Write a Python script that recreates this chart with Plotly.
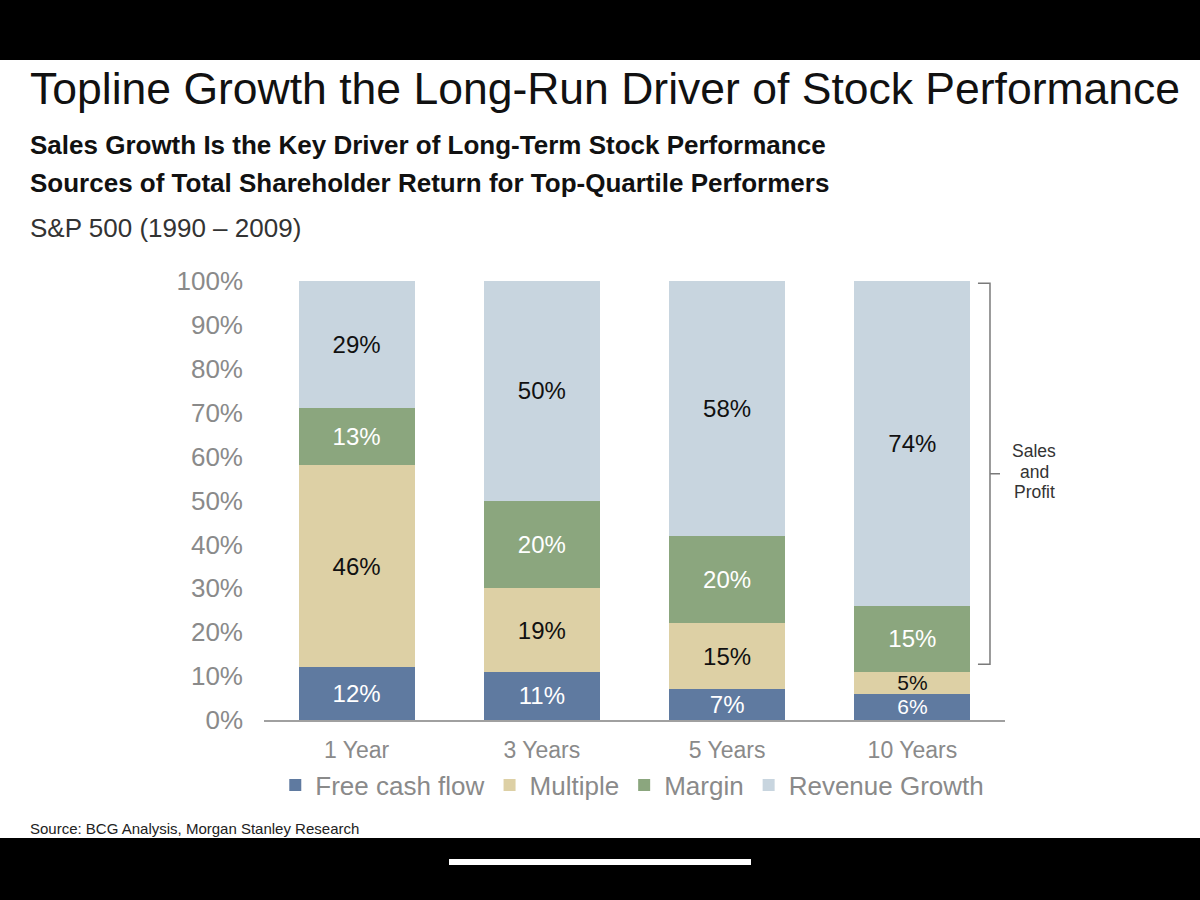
import plotly.graph_objects as go

categories = ["1 Year", "3 Years", "5 Years", "10 Years"]
free_cash_flow = [12, 11, 7, 6]
multiple = [46, 19, 15, 5]
margin = [13, 20, 20, 15]
revenue_growth = [29, 50, 58, 74]
y_ticks = [0, 10, 20, 30, 40, 50, 60, 70, 80, 90, 100]
y_tick_labels = [f"{v}%" for v in y_ticks]

series = [
    ("Free cash flow", free_cash_flow, "#5f7aa0", "white"),
    ("Multiple", multiple, "#ddd0a5", "#111111"),
    ("Margin", margin, "#8ba67e", "white"),
    ("Revenue Growth", revenue_growth, "#c8d5df", "#111111"),
]

FONT = "Liberation Sans, Arial, sans-serif"

fig = go.Figure()
for name, vals, color, tcolor in series:
    sizes = [24 if v >= 7 else 21 for v in vals]
    fig.add_trace(go.Bar(
        x=categories, y=vals, name=name,
        marker=dict(color=color, line=dict(width=0)),
        text=[f"{v}%" for v in vals],
        textposition="inside", insidetextanchor="middle",
        constraintext="none",
        textfont=dict(family=FONT, size=sizes, color=tcolor),
        width=0.627, hoverinfo="skip",
    ))

def px_x(p):
    return (p - 264) / 741.0

def px_y(p):
    return (720 - p) / 439.0

shapes = []
# top and bottom black bands (phone screenshot frame)
shapes.append(dict(type="rect", xref="paper", yref="paper",
                   x0=px_x(-5), x1=px_x(1205), y0=px_y(60), y1=px_y(-5),
                   fillcolor="black", line=dict(width=0), layer="above"))
shapes.append(dict(type="rect", xref="paper", yref="paper",
                   x0=px_x(-5), x1=px_x(1205), y0=px_y(905), y1=px_y(838),
                   fillcolor="black", line=dict(width=0), layer="above"))
shapes.append(dict(type="rect", xref="paper", yref="paper",
                   x0=px_x(449), x1=px_x(751), y0=px_y(865), y1=px_y(859),
                   fillcolor="white", line=dict(width=0), layer="above"))

# bracket for Sales and Profit (Margin + Revenue Growth of 10 Years)
b_bottom = free_cash_flow[3] + multiple[3] + 1.7
b_top = 99.5
b_mid = (b_bottom + b_top) / 2
xv, xh, xt = 3.419, 3.354, 3.473
path = (f"M {xh},{b_top} L {xv},{b_top} L {xv},{b_bottom} L {xh},{b_bottom} "
        f"M {xv},{b_mid} L {xt},{b_mid}")
shapes.append(dict(type="path", xref="x", yref="y", path=path,
                   line=dict(color="#7a7a7a", width=1.5)))

annotations = [
    dict(text="Topline Growth the Long-Run Driver of Stock Performance",
         x=px_x(28), y=px_y(88), xanchor="left", yanchor="middle",
         font=dict(family=FONT, size=44.5, color="#111111")),
    dict(text="<b>Sales Growth Is the Key Driver of Long-Term Stock Performance</b>",
         x=px_x(28), y=px_y(145), xanchor="left", yanchor="middle",
         font=dict(family=FONT, size=26, color="#111111")),
    dict(text="<b>Sources of Total Shareholder Return for Top-Quartile Performers</b>",
         x=px_x(28), y=px_y(183), xanchor="left", yanchor="middle",
         font=dict(family=FONT, size=26, color="#111111")),
    dict(text="S&P 500 (1990 – 2009)",
         x=px_x(28), y=px_y(228), xanchor="left", yanchor="middle",
         font=dict(family=FONT, size=26, color="#333333")),
    dict(text="Source: BCG Analysis, Morgan Stanley Research",
         x=px_x(28), y=px_y(828), xanchor="left", yanchor="middle",
         font=dict(family=FONT, size=15, color="#222222")),
]
for word, ypx in [("Sales", 451), ("and", 472), ("Profit", 492)]:
    annotations.append(dict(text=word, x=px_x(1034), y=px_y(ypx),
                            xanchor="center", yanchor="middle",
                            font=dict(family=FONT, size=17.5, color="#333333")))
for a in annotations:
    a.update(xref="paper", yref="paper", showarrow=False)

fig.update_layout(
    width=1200, height=900,
    margin=dict(l=264, r=195, t=281, b=180),
    barmode="stack", bargap=0.373,
    paper_bgcolor="white", plot_bgcolor="white",
    font=dict(family=FONT),
    showlegend=True,
    legend=dict(orientation="h", x=0.497, xanchor="center",
                y=px_y(785), yanchor="middle",
                font=dict(family=FONT, size=26, color="#8a8a8a"),
                itemclick=False, itemdoubleclick=False,
                traceorder="normal", itemwidth=30),
    shapes=shapes, annotations=annotations,
)
fig.update_xaxes(
    type="category", range=[-0.5, 3.5],
    showline=True, linecolor="#a0a0a0", linewidth=2,
    showgrid=False, ticks="", zeroline=False,
    tickfont=dict(family=FONT, size=23, color="#8a8a8a"),
    ticklabelstandoff=8,
)
fig.update_yaxes(
    range=[0, 100], tickvals=y_ticks, ticktext=y_tick_labels,
    showgrid=False, zeroline=False, showline=False, ticks="",
    tickfont=dict(family=FONT, size=26, color="#8a8a8a"),
    ticklabelstandoff=20,
)

fig.write_html("out.html",
               config={"displayModeBar": False},
               post_script="document.body.style.margin='0';document.body.style.overflow='hidden';")
